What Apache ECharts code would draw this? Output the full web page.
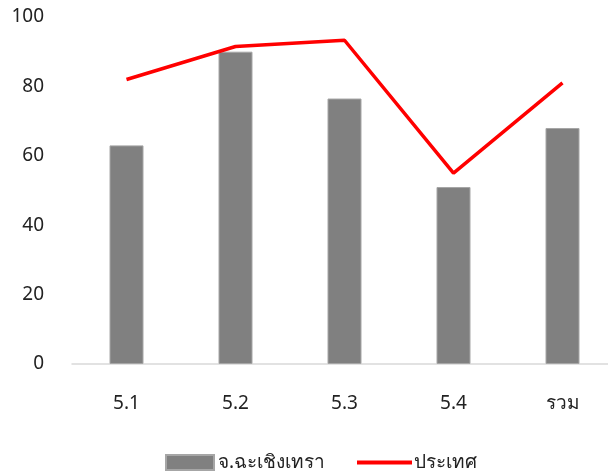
<!DOCTYPE html>
<html>
<head>
<meta charset="utf-8">
<script src="https://cdn.jsdelivr.net/npm/echarts@6/dist/echarts.min.js"></script>
<style>html,body{margin:0;padding:0;background:#fff;}#c{width:608px;height:474px;}</style>
</head>
<body>
<div id="c"></div>
<script>
const categories = ['5.1', '5.2', '5.3', '5.4', 'รวม'];
const provinceValues = [63, 90, 76.5, 51, 68];
const countryValues = [82, 91.5, 93.3, 55, 81];
const yTicks = [0, 20, 40, 60, 80, 100];
const seriesNames = ['จ.ฉะเชิงเทรา', 'ประเทศ'];

const font = '"Noto Sans", "DejaVu Sans", sans-serif';
const chart = echarts.init(document.getElementById('c'), null, {renderer: 'canvas'});
chart.setOption({
  animation: false,
  backgroundColor: '#ffffff',
  textStyle: {fontFamily: font},
  grid: {left: 72, top: 17, width: 545, height: 347, containLabel: false, outerBoundsMode: 'none'},
  legend: [
    {data: [seriesNames[0]], left: 165, top: 453, itemWidth: 48, itemHeight: 15, itemGap: 4,
     icon: 'rect',
     textStyle: {fontSize: 19, color: '#222', fontFamily: font, padding: [0,0,0,-1]}, padding: 0},
    {data: [seriesNames[1]], left: 357, top: 453, itemWidth: 55, itemHeight: 15,
     icon: 'path://M0,6 H55 V10 H0 Z',
     textStyle: {fontSize: 19, color: '#222', fontFamily: font, padding: [0,0,0,-3]}, padding: 0}
  ],
  xAxis: {
    type: 'category',
    data: categories,
    axisLine: {lineStyle: {color: '#d9d9d9', width: 1.5}},
    axisTick: {show: false},
    axisLabel: {fontSize: 19, color: '#222', margin: 30, fontFamily: font}
  },
  yAxis: {
    type: 'value',
    min: yTicks[0],
    max: yTicks[yTicks.length - 1],
    interval: 20,
    axisLine: {show: false},
    axisTick: {show: false},
    splitLine: {show: false},
    axisLabel: {fontSize: 19, color: '#222', margin: 28, fontFamily: font}
  },
  series: [
    {
      name: seriesNames[0],
      type: 'bar',
      data: provinceValues,
      barWidth: 34,
      itemStyle: {color: '#808080', borderColor: '#a6a6a6', borderWidth: 1}
    },
    {
      name: seriesNames[1],
      type: 'line',
      data: countryValues,
      symbol: 'none',
      lineStyle: {color: '#ff0000', width: 3.5},
      itemStyle: {color: '#ff0000'}
    }
  ]
});
</script>
</body>
</html>
